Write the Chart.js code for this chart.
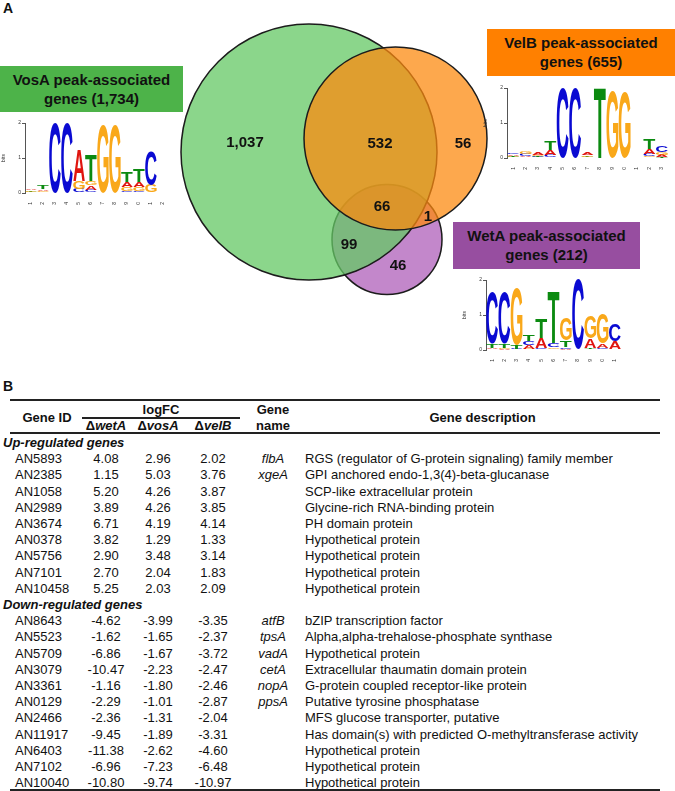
<!DOCTYPE html>
<html>
<head>
<meta charset="utf-8">
<script src="https://cdn.jsdelivr.net/npm/chart.js@4.4.0/dist/chart.umd.min.js"></script>
<style>
body { margin: 0; background: #fff; font-family: "Liberation Sans", Arial, sans-serif; color: #111; }
#page { position: relative; width: 675px; height: 791px; overflow: hidden; }
canvas { position: absolute; display: block; }
.panel { position: absolute; font-weight: bold; font-size: 14px; }
.setbox { position: absolute; font-weight: bold; font-size: 15px; line-height: 19px; text-align: center; padding-top: 4px; box-sizing: border-box; color: #111; }
.cell { position: absolute; font-size: 13px; line-height: 16px; white-space: nowrap; }
.rule { position: absolute; background: #222; }
</style>
</head>
<body>
<div id="page">
  <div class="panel" style="left:3px; top:0px;">A</div>
  <div class="panel" style="left:3px; top:378px;">B</div>

  <canvas id="venn" width="330" height="300" style="left:170px; top:10px;"></canvas>

  <div class="setbox" style="left:0; top:66px; width:183px; height:46px; background:#4db349;">VosA peak-associated<br>genes (1,734)</div>
  <div class="setbox" style="left:487px; top:29px; width:188px; height:47px; background:#ff8000;">VelB peak-associated<br>genes (655)</div>
  <div class="setbox" style="left:453px; top:222px; width:187px; height:47px; background:#974ea0;">WetA peak-associated<br>genes (212)</div>

  <canvas id="logoVosA" width="180" height="90" style="left:0; top:115px;"></canvas>
  <canvas id="logoVelB" width="193" height="90" style="left:482px; top:80px;"></canvas>
  <canvas id="logoWetA" width="164" height="90" style="left:461px; top:272px;"></canvas>

  <div id="table"></div>
</div>

<script>
// ---- Venn data ----
const setNames = ['VosA', 'VelB', 'WetA'];
const setTotals = [1734, 655, 212];
const regionCounts = [1037, 532, 56, 66, 1, 99, 46];

// Venn layout (page pixels)
const circleX = [309, 395.5, 387];
const circleY = [152, 138.5, 239.5];
const circleR = [128, 91.5, 55];
const regionLabelX = [245, 380, 463, 382, 428, 349, 398];
const regionLabelY = [143, 144, 144, 207, 217, 245, 266];
const vennFill = ['rgba(100,200,100,0.75)', 'rgba(252,137,15,0.74)', 'rgba(175,95,185,0.75)'];
const vennOrder = [1, 0, 2];

// ---- Sequence logo data (bits per letter, per position) ----
const vosaPos = ['1','2','3','4','5','6','7','8','9','10','11','12'];
const vosaA = [0.05, 0.05, 0, 0, 0.90, 0.12, 0, 0, 0.15, 0.15, 0, 0.01];
const vosaC = [0.02, 0.02, 2.0, 2.0, 0.12, 0.10, 0, 0, 0.06, 0.06, 0.98, 0.01];
const vosaG = [0.04, 0.04, 0, 0, 0.22, 0.12, 1.98, 1.97, 0.10, 0.10, 0.22, 0.01];
const vosaT = [0.02, 0.10, 0, 0, 0, 0.72, 0, 0, 0.30, 0.35, 0, 0.01];

const velbPos = ['1','2','3','4','5','6','7','8','9','10','11','12','13'];
const velbA = [0.04, 0.03, 0.07, 0.13, 0, 0, 0.08, 0, 0, 0, 0, 0.13, 0.06];
const velbC = [0.05, 0.06, 0.03, 0.08, 2.0, 2.0, 0.02, 0, 0, 0, 0, 0.07, 0.17];
const velbG = [0.03, 0.07, 0.04, 0.02, 0, 0, 0.04, 0, 1.95, 1.88, 0, 0.05, 0.08];
const velbT = [0.03, 0.02, 0.03, 0.24, 0, 0, 0.02, 2.0, 0, 0, 0, 0.28, 0.03];

const wetaPos = ['1','2','3','4','5','6','7','8','9','10','11'];
const wetaA = [0.05, 0.03, 0.02, 0.10, 0.30, 0.02, 0.03, 0, 0.27, 0.12, 0.22];
const wetaC = [1.45, 1.47, 0.02, 0.12, 0.03, 0.12, 0.05, 1.98, 0.02, 0.05, 0.50];
const wetaG = [0.02, 0.03, 1.62, 0.03, 0.02, 0.05, 0.65, 0.02, 0.62, 0.85, 0.02];
const wetaT = [0.12, 0.12, 0.12, 0.20, 0.57, 1.50, 0.20, 0, 0.03, 0.02, 0];

const letterColors = { A: '#e0150f', C: '#0a0ad2', G: '#f9a81a', T: '#0b8a10' };

// ---- Table data ----
const upIds = ['AN5893','AN2385','AN1058','AN2989','AN3674','AN0378','AN5756','AN7101','AN10458'];
const upWetA = [4.08, 1.15, 5.20, 3.89, 6.71, 3.82, 2.90, 2.70, 5.25];
const upVosA = [2.96, 5.03, 4.26, 4.26, 4.19, 1.29, 3.48, 2.04, 2.03];
const upVelB = [2.02, 3.76, 3.87, 3.85, 4.14, 1.33, 3.14, 1.83, 2.09];
const upNames = ['flbA','xgeA','','','','','','',''];
const upDesc = ['RGS (regulator of G-protein signaling) family member','GPI anchored endo-1,3(4)-beta-glucanase','SCP-like extracellular protein','Glycine-rich RNA-binding protein','PH domain protein','Hypothetical protein','Hypothetical protein','Hypothetical protein','Hypothetical protein'];

const downIds = ['AN8643','AN5523','AN5709','AN3079','AN3361','AN0129','AN2466','AN11917','AN6403','AN7102','AN10040'];
const downWetA = [-4.62, -1.62, -6.86, -10.47, -1.16, -2.29, -2.36, -9.45, -11.38, -6.96, -10.80];
const downVosA = [-3.99, -1.65, -1.67, -2.23, -1.80, -1.01, -1.31, -1.89, -2.62, -7.23, -9.74];
const downVelB = [-3.35, -2.37, -3.72, -2.47, -2.46, -2.87, -2.04, -3.31, -4.60, -6.48, -10.97];
const downNames = ['atfB','tpsA','vadA','cetA','nopA','ppsA','','','','',''];
const downDesc = ['bZIP transcription factor','Alpha,alpha-trehalose-phosphate synthase','Hypothetical protein','Extracellular thaumatin domain protein','G-protein coupled receptor-like protein','Putative tyrosine phosphatase','MFS glucose transporter, putative','Has domain(s) with predicted O-methyltransferase activity','Hypothetical protein','Hypothetical protein','Hypothetical protein'];

// ---------- Venn diagram ----------
const vennLabels = {
  id: 'vennLabels',
  afterDatasetsDraw(chart) {
    const ctx = chart.ctx;
    const xs = chart.scales.x, ys = chart.scales.y;
    ctx.save();
    ctx.font = 'bold 15px "Liberation Sans"';
    ctx.fillStyle = '#111';
    ctx.textAlign = 'center';
    ctx.textBaseline = 'middle';
    regionCounts.forEach((n, i) => {
      ctx.fillText(n.toLocaleString('en-US'), xs.getPixelForValue(regionLabelX[i]), ys.getPixelForValue(regionLabelY[i]));
    });
    ctx.restore();
  }
};

new Chart(document.getElementById('venn'), {
  type: 'bubble',
  data: {
    datasets: setNames.map((name, i) => ({
      label: name + ' (' + setTotals[i] + ')',
      data: [{ x: circleX[i], y: circleY[i], r: circleR[i] }],
      backgroundColor: vennFill[i],
      borderColor: '#1c1c1c',
      borderWidth: 1.5,
      order: vennOrder[i],
      clip: false
    }))
  },
  options: {
    responsive: false,
    animation: false,
    events: [],
    layout: { padding: 0, autoPadding: false },
    plugins: { legend: { display: false }, tooltip: { enabled: false } },
    scales: {
      x: { type: 'linear', min: 170, max: 500, display: false },
      y: { type: 'linear', min: 10, max: 310, reverse: true, display: false }
    }
  },
  plugins: [vennLabels]
});

// ---------- Sequence logos ----------
function drawGlyph(ctx, letter, x, y, w, h) {
  ctx.save();
  ctx.font = 'bold 100px "Liberation Sans"';
  const m = ctx.measureText(letter);
  const gw = m.actualBoundingBoxLeft + m.actualBoundingBoxRight;
  const gh = m.actualBoundingBoxAscent + m.actualBoundingBoxDescent;
  ctx.translate(x, y);
  ctx.scale(w / gw, h / gh);
  ctx.fillStyle = letterColors[letter];
  ctx.fillText(letter, m.actualBoundingBoxLeft, m.actualBoundingBoxAscent);
  ctx.restore();
}

const glyphPlugin = {
  id: 'glyphs',
  afterDatasetsDraw(chart) {
    const ctx = chart.ctx;
    chart.data.datasets.forEach((ds, di) => {
      chart.getDatasetMeta(di).data.forEach((bar, i) => {
        if (!ds.data[i]) return;
        const top = Math.min(bar.y, bar.base);
        const h = Math.abs(bar.base - bar.y);
        if (h < 0.4) return;
        drawGlyph(ctx, ds.letters[i], bar.x - bar.width / 2, top, bar.width, h);
      });
    });
  }
};

// one dataset per rank so the tallest letter sits on top at every position
function rankDatasets(byLetter) {
  const letters = Object.keys(byLetter);
  const n = byLetter[letters[0]].length;
  const ranks = letters.map(() => ({ data: [], letters: [] }));
  for (let p = 0; p < n; p++) {
    const sorted = letters.map(l => [l, byLetter[l][p]]).sort((a, b) => a[1] - b[1]);
    sorted.forEach(([l, v], k) => { ranks[k].data.push(v); ranks[k].letters.push(l); });
  }
  return ranks.map((r, k) => ({
    label: 'rank' + k,
    data: r.data,
    letters: r.letters,
    backgroundColor: 'rgba(0,0,0,0)',
    borderWidth: 0,
    barPercentage: 1,
    categoryPercentage: 0.96,
    stack: 'logo'
  }));
}

function makeLogo(id, positions, byLetter, padRight) {
  const tiny = { size: 5, family: '"Liberation Sans"' };
  new Chart(document.getElementById(id), {
    type: 'bar',
    data: { labels: positions, datasets: rankDatasets(byLetter) },
    options: {
      responsive: false,
      animation: false,
      events: [],
      layout: { padding: { top: 8, right: padRight, left: 0, bottom: 0 } },
      plugins: { legend: { display: false }, tooltip: { enabled: false } },
      scales: {
        x: {
          stacked: true,
          grid: { display: false },
          border: { display: false },
          ticks: { font: tiny, color: '#333', minRotation: 90, maxRotation: 90, autoSkip: false, padding: 1 },
          afterFit: s => { s.height = 12; }
        },
        y: {
          stacked: true,
          min: 0, max: 2,
          ticks: { stepSize: 1, font: tiny, color: '#333', padding: 1 },
          grid: { drawOnChartArea: false, tickLength: 3, color: '#555' },
          border: { display: true, color: '#555' },
          title: { display: true, text: 'bits', font: tiny, color: '#333', padding: 1 },
          afterFit: s => { s.width = 25; }
        }
      }
    },
    plugins: [glyphPlugin]
  });
}

makeLogo('logoVosA', vosaPos, { A: vosaA, C: vosaC, G: vosaG, T: vosaT }, 11);
makeLogo('logoVelB', velbPos, { A: velbA, C: velbC, G: velbG, T: velbT }, 7);
makeLogo('logoWetA', wetaPos, { A: wetaA, C: wetaC, G: wetaG, T: wetaT }, 4);

// ---------- Table (panel B) ----------
const table = document.getElementById('table');
function cell(html, left, top, width, align, extra) {
  const d = document.createElement('div');
  d.className = 'cell';
  d.style.left = left + 'px';
  d.style.top = top + 'px';
  if (width) d.style.width = width + 'px';
  d.style.textAlign = align || 'left';
  if (extra) d.style.cssText += extra;
  d.innerHTML = html;
  table.appendChild(d);
}
function rule(left, top, width, height) {
  const d = document.createElement('div');
  d.className = 'rule';
  d.style.cssText += `left:${left}px;top:${top}px;width:${width}px;height:${height}px;`;
  table.appendChild(d);
}

const bold = 'font-weight:bold;';
rule(10, 399, 650, 2);
cell('Gene ID', 10, 410, 74, 'center', bold);
cell('logFC', 82, 402, 158, 'center', bold);
rule(82, 417, 158, 1.5);
cell('Δ<i>wetA</i>', 80, 418, 52, 'center', bold);
cell('Δ<i>vosA</i>', 132, 418, 52, 'center', bold);
cell('Δ<i>velB</i>', 187, 418, 52, 'center', bold);
cell('Gene', 243, 402, 60, 'center', bold);
cell('name', 243, 418, 60, 'center', bold);
cell('Gene description', 305, 410, 355, 'center', bold);
rule(10, 432, 650, 1.5);

const rowH = 16.2;
const firstRow = 435;
let r = 0;
function groupRows(title, ids, w, v, b, names, desc) {
  cell('<i>' + title + '</i>', 3, firstRow + rowH * r, 0, 'left', bold);
  r++;
  ids.forEach((id, i) => {
    const top = firstRow + rowH * r;
    cell(id, 15, top);
    cell(w[i].toFixed(2), 80, top, 52, 'center');
    cell(v[i].toFixed(2), 132, top, 52, 'center');
    cell(b[i].toFixed(2), 187, top, 52, 'center');
    if (names[i]) cell(names[i], 243, top, 60, 'center', 'font-style:italic;');
    cell(desc[i], 305, top);
    r++;
  });
}
groupRows('Up-regulated genes', upIds, upWetA, upVosA, upVelB, upNames, upDesc);
groupRows('Down-regulated genes', downIds, downWetA, downVosA, downVelB, downNames, downDesc);
rule(10, 789, 650, 2);
</script>
</body>
</html>
